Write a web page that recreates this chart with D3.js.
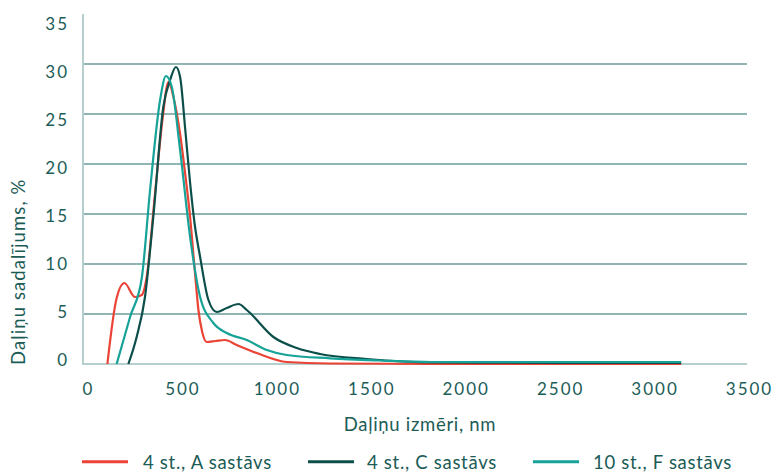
<!DOCTYPE html>
<html><head><meta charset="utf-8">
<script src="https://cdn.jsdelivr.net/npm/d3@7"></script>
<style>body{margin:0;background:#fff}svg text{font-family:Lato,"Noto Sans",sans-serif;fill:#1C5C57}</style>
</head><body><svg id="c" width="773" height="472"></svg>
<script>
const seriesNames = ["4 st., A sastāvs", "4 st., C sastāvs", "10 st., F sastāvs"];
const seriesColors = ["#EB4335", "#0C4F4A", "#16A297"];
const xTicks = [0, 500, 1000, 1500, 2000, 2500, 3000, 3500];
const yTicks = [0, 5, 10, 15, 20, 25, 30, 35];
const xTitle = "Daļiņu izmēri, nm";
const yTitle = "Daļiņu sadalījums, %";
const seriesA = [[108,0],[157,6.6],[198,8.1],[254,6.7],[290,6.9],[316,8.7],[360,17],[400,24.5],[431,28.2],[460,26.5],[493,23],[520,19],[546,14.7],[570,9.5],[590,5.4],[610,3.2],[634,2.2],[680,2.3],[731,2.4],[793,1.9],[899,1.1],[1058,0.2],[1287,0.05],[1800,0.02],[2500,0.02],[3146,0.02]];
const seriesC = [[219,0],[263,2.7],[307,6.7],[351,14.7],[404,25.7],[440,28.4],[471,29.7],[493,28.7],[520,23.5],[546,18.1],[570,14],[599,10.7],[643,6.4],[687,5.2],[740,5.6],[802,6.0],[846,5.4],[987,2.7],[1111,1.6],[1234,1.0],[1481,0.5],[1834,0.15],[2500,0.12],[3146,0.12]];
const seriesF = [[157,0],[228,4.7],[290,8.6],[334,17.4],[387,26.4],[418,28.8],[449,27.7],[493,21.4],[546,12.7],[599,6.7],[669,4.1],[740,3.1],[846,2.4],[952,1.4],[1058,0.9],[1287,0.57],[1550,0.35],[1822,0.2],[2500,0.2],[3146,0.2]];
const allSeries = [seriesA, seriesC, seriesF];

const svg = d3.select("#c");
const x = d3.scaleLinear().domain([0, 3500]).range([87, 748]);
const y = d3.scaleLinear().domain([0, 35]).range([364, 14]);
const yLab = d3.scaleLinear().domain([0, 35]).range([359, 23]);
const left = 83, right = 747;

// gridlines
svg.append("g").selectAll("line").data(yTicks.filter(t => t > 0 && t < 35)).join("line")
  .attr("x1", left).attr("x2", right).attr("y1", d => y(d)).attr("y2", d => y(d))
  .attr("stroke", "#8FB6B5").attr("stroke-width", 2);
// baseline & y axis line
svg.append("line").attr("x1", left).attr("x2", right).attr("y1", y(0)).attr("y2", y(0))
  .attr("stroke", "#B5CFCE").attr("stroke-width", 2);
svg.append("line").attr("x1", left).attr("x2", left).attr("y1", y(35)).attr("y2", y(0) + 1)
  .attr("stroke", "#B5CFCE").attr("stroke-width", 2);

// y tick labels
const yAxis = d3.axisLeft(yLab).tickValues(yTicks).tickSize(0).tickPadding(0);
const gy = svg.append("g").attr("transform", "translate(69,0)").call(yAxis);
gy.select(".domain").remove();
gy.selectAll("text").attr("font-size", 17).attr("letter-spacing", 2).attr("dy", "0.36em")
  .style("font-family", "Lato").style("fill", "#1C5C57");

// x tick labels
const xAxis = d3.axisBottom(x).tickValues(xTicks).tickSize(0).tickPadding(0).tickFormat(d3.format("d"));
const gx = svg.append("g").attr("transform", "translate(1,0)").call(xAxis);
gx.select(".domain").remove();
gx.selectAll("text").attr("font-size", 17).attr("letter-spacing", 2).attr("y", 395).attr("dy", 0)
  .style("font-family", "Lato").style("fill", "#1C5C57");

// axis titles
svg.append("text").attr("x", 420).attr("y", 431).attr("text-anchor", "middle")
  .attr("font-size", 18.5).attr("letter-spacing", 0.7).text(xTitle);
svg.append("text").attr("transform", "translate(25,365) rotate(-90)").attr("text-anchor", "start")
  .attr("font-size", 18.5).attr("letter-spacing", 1.1).text(yTitle);

// lines
const line = d3.line().x(d => x(d[0])).y(d => y(d[1])).curve(d3.curveMonotoneX);
allSeries.forEach((s, i) => {
  svg.append("path").datum(s).attr("d", line).attr("fill", "none")
    .attr("stroke", seriesColors[i]).attr("stroke-width", 2.2).attr("stroke-linejoin", "round");
});

// legend
const legX = [82, 308, 533];
const legText = [143, 367, 593];
seriesNames.forEach((n, i) => {
  svg.append("line").attr("x1", legX[i]).attr("x2", legX[i] + 46).attr("y1", 461.7).attr("y2", 461.7)
    .attr("stroke", seriesColors[i]).attr("stroke-width", 3);
  svg.append("text").attr("x", legText[i]).attr("y", 469).attr("font-size", 18.5)
    .attr("letter-spacing", 0.7).text(n);
});
</script></body></html>
